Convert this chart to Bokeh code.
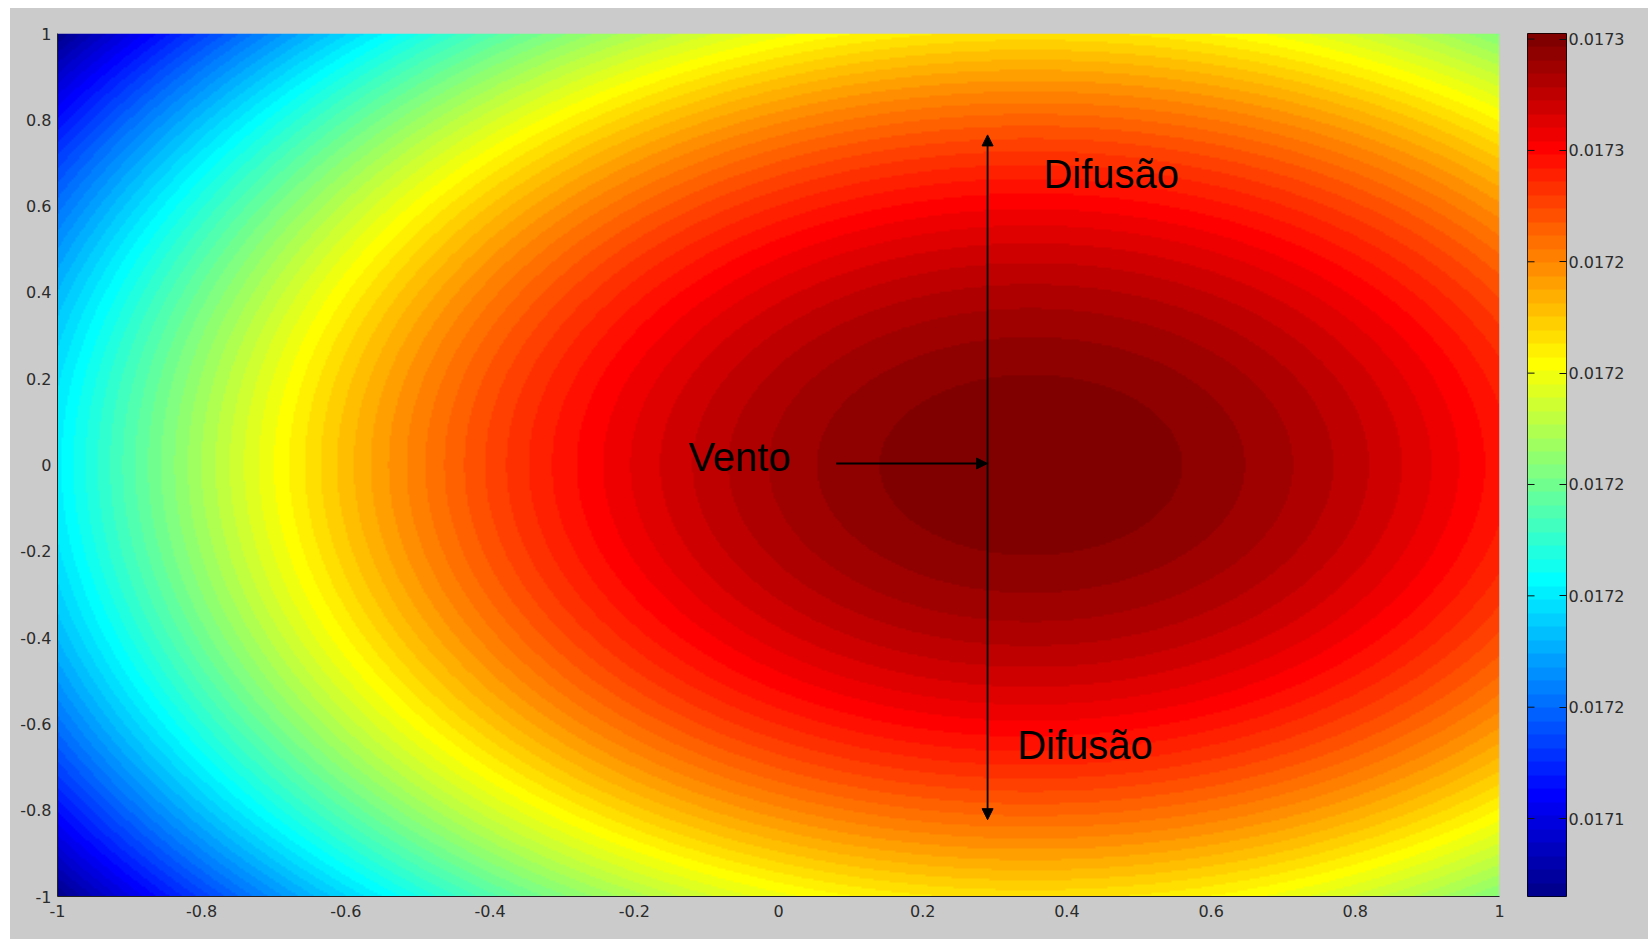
import numpy as np
from bokeh.plotting import figure
from bokeh.layouts import row
from bokeh.models import (LinearColorMapper, Range1d, FixedTicker,
                          Arrow, NormalHead, Label, PrintfTickFormatter)
from bokeh.embed import file_html
from bokeh.resources import INLINE

# Concentration surface: maximum downwind of the source, minimum in the corner
peak_x = 0.35
peak_y = 0.0
peak_value = 0.017281
corner_x = -1.0
corner_y = 1.0
corner_value = 0.017126

axis_ticks = [-1, -0.8, -0.6, -0.4, -0.2, 0, 0.2, 0.4, 0.6, 0.8, 1]
axis_labels = ["-1", "-0.8", "-0.6", "-0.4", "-0.2", "0", "0.2", "0.4", "0.6", "0.8", "1"]
colorbar_ticks = [0.01714, 0.01716, 0.01718, 0.01720, 0.01722, 0.01724, 0.01726, 0.01728]

label_text = ["Difusão", "Vento", "Difusão"]
label_x = [0.3675, -0.125, 0.331]
label_y = [0.674, 0.019, -0.650]

wind_arrow = dict(x_start=0.08, y_start=0.0035, x_end=0.29, y_end=0.0035)
diffusion_arrow = dict(x_start=0.29, y_start=-0.822, x_end=0.29, y_end=0.765)

BG = "#cbcbcb"
TICK_FONT = "DejaVu Sans"
TICK_COLOR = "#2b2b2b"


def jet(m=64):
    """MATLAB-style jet colormap with m entries."""
    n = int(np.ceil(m / 4))
    u = np.concatenate([np.arange(1, n + 1) / n, np.ones(n - 1), np.arange(n, 0, -1) / n])
    g = int(np.ceil(n / 2)) - (1 if m % 4 == 1 else 0) + np.arange(1, len(u) + 1)
    r = g + n
    b = g - n
    g = g[g <= m]
    r = r[r <= m]
    b = b[b >= 1]
    J = np.zeros((m, 3))
    J[r - 1, 0] = u[:len(r)]
    J[g - 1, 1] = u[:len(g)]
    J[b - 1, 2] = u[len(u) - len(b):]
    return ["#%02x%02x%02x" % tuple(int(round(c * 255)) for c in rgb) for rgb in J]


palette = jet(64)
mapper = LinearColorMapper(palette=palette, low=corner_value, high=peak_value)

# sample the surface on a grid covering [-1, 1] x [-1, 1]
nx, ny = 721, 432
xs = -1 + (np.arange(nx) + 0.5) * 2 / nx
ys = -1 + (np.arange(ny) + 0.5) * 2 / ny
X, Y = np.meshgrid(xs, ys)
r2 = (X - peak_x) ** 2 + (Y - peak_y) ** 2
rc2 = (corner_x - peak_x) ** 2 + (corner_y - peak_y) ** 2
field = (peak_value - (peak_value - corner_value) * r2 / rc2).astype(np.float32)

# ---- main map ----
p = figure(width=1500, height=931, x_range=Range1d(-1, 1), y_range=Range1d(-1, 1),
           output_backend="svg", toolbar_location=None,
           min_border_left=47, min_border_right=11, min_border_top=25, min_border_bottom=42)
p.background_fill_color = BG
p.border_fill_color = BG
p.outline_line_color = None
p.grid.visible = False

p.image(image=[field], x=-1, y=-1, dw=2, dh=2, color_mapper=mapper)

overrides = {t: s for t, s in zip(axis_ticks, axis_labels)}
for ax in (p.xaxis[0], p.yaxis[0]):
    ax.ticker = FixedTicker(ticks=axis_ticks)
    ax.major_label_overrides = overrides
    ax.major_tick_line_color = None
    ax.minor_tick_line_color = None
    ax.major_tick_in = 0
    ax.major_tick_out = 0
    ax.axis_line_color = "#222222"
    ax.axis_line_width = 1
    ax.major_label_text_font = TICK_FONT
    ax.major_label_text_font_size = "16px"
    ax.major_label_text_color = TICK_COLOR
p.xaxis.major_label_standoff = 8
p.yaxis.major_label_standoff = 6

head = dict(size=11, fill_color="black", line_color="black")
p.add_layout(Arrow(end=NormalHead(**head), line_color="black", line_width=2, **wind_arrow))
p.add_layout(Arrow(start=NormalHead(**head), end=NormalHead(**head),
                   line_color="black", line_width=1.8, **diffusion_arrow))

for t, x, y in zip(label_text, label_x, label_y):
    p.add_layout(Label(x=x, y=y, text=t, text_font="Liberation Sans", text_font_size="40px",
                       text_color="black", text_baseline="middle", text_align="left"))

# ---- colour bar ----
cb = figure(width=138, height=931, x_range=Range1d(0, 1),
            y_range=Range1d(corner_value, peak_value),
            output_backend="svg", toolbar_location=None,
            x_axis_location=None, y_axis_location="right",
            min_border_left=17, min_border_right=82, min_border_top=25, min_border_bottom=43)
cb.background_fill_color = BG
cb.border_fill_color = BG
cb.outline_line_color = "black"
cb.outline_line_width = 1
cb.grid.visible = False

step = (peak_value - corner_value) / len(palette)
bar = (corner_value + (np.arange(len(palette)) + 0.5) * step).reshape(-1, 1)
cb.image(image=[bar], x=0, y=corner_value, dw=1, dh=peak_value - corner_value, color_mapper=mapper)

# inner tick marks along the left edge of the bar
n_ticks = len(colorbar_ticks)
cb.segment(x0=[0] * n_ticks, y0=colorbar_ticks, x1=[0.18] * n_ticks, y1=colorbar_ticks,
           line_color="#111111", line_width=1)

ra = cb.yaxis[0]
ra.ticker = FixedTicker(ticks=colorbar_ticks)
ra.formatter = PrintfTickFormatter(format="%.4f")
ra.major_tick_in = 7
ra.major_tick_out = 0
ra.minor_tick_line_color = None
ra.axis_line_color = None
ra.major_tick_line_color = "#111111"
ra.major_label_standoff = 2
ra.major_label_text_font = TICK_FONT
ra.major_label_text_font_size = "16px"
ra.major_label_text_color = TICK_COLOR

layout = row(p, cb, margin=(8, 0, 0, 10), styles={"background-color": BG})
open("out.html", "w").write(file_html(layout, INLINE))
